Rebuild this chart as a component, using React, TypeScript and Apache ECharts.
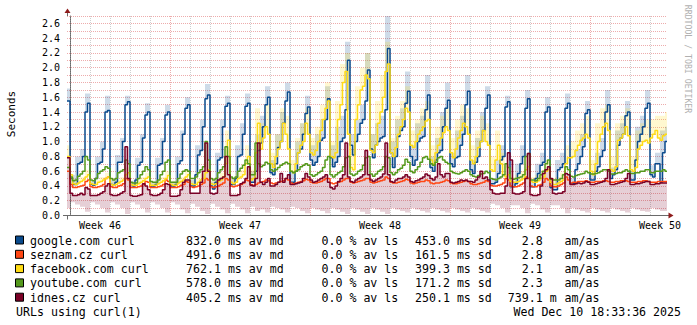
import React, { useEffect, useRef } from 'react';
import * as echarts from 'echarts';

const FONT = '"DejaVu Sans Mono", "Liberation Mono", monospace';

// ---- 3-hour medians (first value: partial bin before the first day line) ----
const googleMedian = [
  1.55,
  0.50, 0.42, 0.42, 0.70, 0.72, 0.80, 1.40, 1.52,
  0.42, 0.41, 0.50, 0.70, 0.72, 0.90, 1.40, 1.42,
  0.42, 0.41, 0.45, 0.72, 0.72, 1.00, 1.50, 1.54,
  0.42, 0.40, 0.48, 0.68, 0.72, 1.05, 1.36, 1.40,
  0.40, 0.40, 0.42, 0.68, 0.70, 1.00, 1.36, 1.40,
  0.40, 0.40, 0.42, 0.70, 0.74, 1.10, 1.45, 1.50,
  0.40, 0.40, 0.55, 0.82, 0.88, 1.20, 1.58, 1.63,
  0.40, 0.36, 0.45, 0.75, 0.78, 1.20, 1.48, 1.52,
  0.42, 0.42, 0.50, 0.80, 0.82, 1.10, 1.48, 1.52,
  0.45, 0.45, 0.60, 0.88, 0.98, 1.20, 1.50, 1.60,
  0.58, 0.55, 0.70, 0.92, 1.00, 1.25, 1.55, 1.67,
  0.45, 0.45, 0.60, 0.85, 0.90, 1.10, 1.38, 1.47,
  0.75, 0.68, 0.72, 0.80, 1.02, 1.05, 1.30, 1.58,
  0.78, 0.66, 0.72, 0.80, 1.00, 1.05, 1.43, 2.10,
  0.95, 0.82, 1.00, 1.10, 1.25, 1.30, 1.55, 1.97,
  0.90, 0.78, 0.95, 1.00, 1.05, 1.07, 1.43, 2.26,
  0.85, 0.65, 0.80, 1.07, 1.15, 1.20, 1.52, 1.68,
  0.80, 0.68, 0.75, 1.00, 1.05, 1.07, 1.43, 1.63,
  0.65, 0.60, 0.75, 0.85, 0.88, 1.20, 1.45, 1.56,
  0.70, 0.66, 0.78, 0.80, 0.95, 1.10, 1.50, 1.68,
  0.62, 0.57, 0.72, 0.80, 1.00, 1.15, 1.45, 1.63,
  0.43, 0.43, 0.45, 0.57, 0.75, 0.80, 1.47, 1.54,
  0.39, 0.39, 0.43, 0.57, 0.70, 0.80, 1.45, 1.58,
  0.39, 0.39, 0.50, 0.57, 0.68, 0.72, 1.40, 1.47,
  0.38, 0.35, 0.35, 0.62, 0.65, 0.70, 1.45, 1.52,
  0.43, 0.43, 0.62, 0.70, 0.80, 0.93, 1.38, 1.43,
  0.48, 0.48, 0.60, 0.66, 0.80, 0.88, 1.40, 1.50,
  0.50, 0.55, 0.62, 0.95, 1.05, 1.10, 1.35, 1.40,
  0.48, 0.48, 0.75, 1.00, 1.10, 1.20, 1.45, 1.52,
  0.55, 0.52, 0.70, 0.70, 0.45, 0.85, 1.00,
];

const seznamMedian = [
  0.60,
  0.42, 0.38, 0.38, 0.39, 0.40, 0.41, 0.46, 0.48,
  0.39, 0.38, 0.38, 0.39, 0.40, 0.42, 0.50, 0.52,
  0.39, 0.38, 0.38, 0.40, 0.41, 0.43, 0.50, 0.48,
  0.38, 0.38, 0.38, 0.39, 0.40, 0.42, 0.46, 0.45,
  0.38, 0.38, 0.38, 0.39, 0.40, 0.42, 0.48, 0.46,
  0.38, 0.38, 0.38, 0.39, 0.41, 0.42, 0.46, 0.45,
  0.39, 0.38, 0.39, 0.40, 0.42, 0.44, 0.50, 0.48,
  0.39, 0.38, 0.39, 0.40, 0.42, 0.44, 0.50, 0.48,
  0.40, 0.39, 0.40, 0.41, 0.42, 0.44, 0.48, 0.47,
  0.42, 0.41, 0.42, 0.44, 0.45, 0.46, 0.48, 0.47,
  0.44, 0.43, 0.44, 0.45, 0.46, 0.47, 0.50, 0.48,
  0.44, 0.43, 0.44, 0.45, 0.46, 0.47, 0.49, 0.48,
  0.45, 0.44, 0.44, 0.45, 0.46, 0.48, 0.50, 0.50,
  0.44, 0.43, 0.44, 0.45, 0.46, 0.48, 0.50, 0.50,
  0.45, 0.44, 0.45, 0.46, 0.47, 0.48, 0.50, 0.50,
  0.45, 0.44, 0.45, 0.46, 0.47, 0.48, 0.52, 0.50,
  0.45, 0.44, 0.44, 0.45, 0.46, 0.47, 0.49, 0.48,
  0.44, 0.43, 0.44, 0.45, 0.46, 0.46, 0.48, 0.47,
  0.44, 0.43, 0.44, 0.44, 0.45, 0.46, 0.48, 0.47,
  0.44, 0.43, 0.43, 0.44, 0.45, 0.46, 0.47, 0.46,
  0.43, 0.42, 0.42, 0.43, 0.44, 0.45, 0.47, 0.46,
  0.41, 0.40, 0.40, 0.41, 0.42, 0.44, 0.50, 0.48,
  0.40, 0.39, 0.39, 0.40, 0.42, 0.44, 0.52, 0.50,
  0.40, 0.39, 0.39, 0.41, 0.42, 0.45, 0.50, 0.48,
  0.40, 0.39, 0.39, 0.40, 0.42, 0.44, 0.52, 0.48,
  0.44, 0.45, 0.45, 0.46, 0.46, 0.46, 0.47, 0.46,
  0.45, 0.45, 0.46, 0.46, 0.46, 0.47, 0.47, 0.46,
  0.45, 0.45, 0.46, 0.46, 0.47, 0.47, 0.47, 0.46,
  0.45, 0.45, 0.45, 0.46, 0.46, 0.47, 0.47, 0.46,
  0.45, 0.45, 0.45, 0.46, 0.46, 0.46, 0.46,
];

const facebookMedian = [
  0.80,
  0.55, 0.43, 0.42, 0.44, 0.46, 0.48, 0.52, 0.55,
  0.43, 0.42, 0.42, 0.45, 0.46, 0.48, 0.50, 0.52,
  0.42, 0.41, 0.42, 0.44, 0.46, 0.48, 0.55, 0.58,
  0.42, 0.41, 0.41, 0.43, 0.45, 0.47, 0.50, 0.52,
  0.41, 0.41, 0.41, 0.43, 0.45, 0.47, 0.50, 0.54,
  0.42, 0.41, 0.41, 0.44, 0.46, 0.48, 0.52, 0.55,
  0.43, 0.42, 0.42, 0.45, 0.48, 0.50, 0.58, 0.62,
  0.43, 0.42, 0.43, 0.46, 0.48, 0.52, 0.70, 1.02,
  0.45, 0.43, 0.45, 0.50, 0.52, 0.55, 0.70, 0.80,
  0.48, 0.50, 0.85, 1.25, 0.90, 1.05, 1.20, 1.10,
  0.70, 0.65, 0.80, 0.90, 1.00, 1.25, 1.10, 0.90,
  0.60, 0.58, 0.70, 0.85, 0.95, 1.00, 1.25, 1.10,
  0.85, 0.82, 0.88, 1.00, 1.15, 1.30, 1.45, 1.55,
  0.80, 0.78, 0.85, 1.30, 1.50, 1.80, 1.95, 1.10,
  0.65, 0.62, 1.30, 1.50, 1.70, 1.75, 1.90, 1.85,
  0.88, 0.85, 0.95, 1.25, 1.40, 1.60, 1.95, 2.05,
  0.85, 0.80, 0.92, 1.10, 1.20, 1.30, 1.45, 1.40,
  0.95, 0.92, 1.00, 1.10, 1.15, 1.20, 1.28, 1.30,
  0.75, 0.70, 0.85, 0.95, 1.05, 1.12, 1.20, 1.15,
  0.85, 0.78, 0.90, 1.05, 1.15, 1.25, 1.20, 1.10,
  0.75, 0.70, 0.80, 0.92, 1.00, 1.15, 1.00, 0.95,
  0.62, 0.60, 0.75, 0.95, 0.70, 0.55, 0.52, 0.55,
  0.46, 0.45, 0.45, 0.46, 0.48, 0.50, 0.62, 0.66,
  0.46, 0.45, 0.45, 0.47, 0.50, 0.52, 0.60, 0.62,
  0.45, 0.42, 0.42, 0.44, 0.46, 0.48, 0.70, 0.78,
  0.78, 0.80, 0.88, 0.95, 1.02, 1.05, 1.10, 1.05,
  0.60, 0.55, 0.70, 1.00, 1.10, 1.20, 1.25, 1.15,
  0.62, 0.60, 0.66, 1.02, 1.05, 1.10, 1.20, 1.08,
  0.62, 0.60, 0.65, 0.90, 0.95, 1.00, 1.02, 0.98,
  1.05, 1.10, 1.15, 1.05, 1.02, 1.08, 1.10,
];

const youtubeMedian = [
  0.65,
  0.52, 0.47, 0.48, 0.53, 0.56, 0.60, 0.80, 0.75,
  0.48, 0.47, 0.50, 0.57, 0.60, 0.62, 0.66, 0.64,
  0.50, 0.48, 0.50, 0.58, 0.60, 0.62, 0.75, 0.70,
  0.45, 0.44, 0.44, 0.50, 0.55, 0.60, 0.66, 0.62,
  0.46, 0.45, 0.45, 0.48, 0.55, 0.60, 0.72, 0.75,
  0.45, 0.45, 0.45, 0.50, 0.56, 0.60, 0.62, 0.60,
  0.50, 0.50, 0.52, 0.58, 0.62, 0.66, 1.00, 0.75,
  0.50, 0.48, 0.50, 0.58, 0.62, 0.66, 0.93, 0.80,
  0.52, 0.50, 0.52, 0.60, 0.64, 0.68, 0.75, 0.70,
  0.55, 0.55, 0.98, 0.70, 0.66, 0.68, 0.72, 0.70,
  0.62, 0.60, 0.62, 0.65, 0.68, 0.70, 0.72, 0.70,
  0.60, 0.58, 0.60, 0.62, 0.66, 0.68, 0.70, 0.68,
  0.55, 0.53, 0.55, 0.58, 0.60, 0.65, 0.75, 0.80,
  0.55, 0.52, 0.55, 0.58, 0.60, 0.66, 0.78, 0.80,
  0.56, 0.54, 0.56, 0.60, 0.62, 0.68, 0.78, 0.80,
  0.56, 0.53, 0.56, 0.60, 0.62, 0.66, 0.80, 0.78,
  0.58, 0.55, 0.58, 0.62, 0.64, 0.68, 0.76, 0.72,
  0.60, 0.58, 0.62, 0.66, 0.72, 0.78, 0.80, 0.76,
  0.70, 0.68, 0.72, 0.78, 0.80, 0.75, 0.72, 0.70,
  0.60, 0.58, 0.57, 0.56, 0.58, 0.60, 0.62, 0.60,
  0.55, 0.53, 0.52, 0.54, 0.56, 0.57, 0.60, 0.58,
  0.50, 0.49, 0.48, 0.50, 0.52, 0.55, 0.70, 0.65,
  0.50, 0.49, 0.50, 0.51, 0.52, 0.55, 0.80, 0.84,
  0.48, 0.48, 0.47, 0.50, 0.55, 0.60, 0.70, 0.75,
  0.49, 0.48, 0.48, 0.48, 0.50, 0.55, 0.66, 0.62,
  0.53, 0.52, 0.54, 0.55, 0.56, 0.57, 0.60, 0.58,
  0.56, 0.56, 0.57, 0.58, 0.60, 0.62, 0.62, 0.60,
  0.56, 0.56, 0.57, 0.58, 0.58, 0.60, 0.62, 0.60,
  0.57, 0.57, 0.58, 0.58, 0.60, 0.60, 0.62, 0.62,
  0.58, 0.58, 0.60, 0.60, 0.60, 0.62, 0.60,
];

const idnesMedian = [
  0.78,
  0.30, 0.27, 0.27, 0.28, 0.30, 0.28, 0.38, 0.36,
  0.27, 0.27, 0.27, 0.28, 0.30, 0.32, 0.40, 0.43,
  0.28, 0.27, 0.27, 0.28, 0.30, 0.32, 0.93, 0.50,
  0.27, 0.26, 0.26, 0.27, 0.28, 0.43, 0.40, 0.35,
  0.28, 0.27, 0.27, 0.28, 0.30, 0.35, 0.43, 0.42,
  0.26, 0.26, 0.26, 0.27, 0.35, 0.45, 0.48, 0.48,
  0.30, 0.30, 0.30, 0.30, 0.45, 0.60, 0.98, 0.60,
  0.30, 0.29, 0.30, 0.48, 0.50, 0.52, 0.80, 0.55,
  0.27, 0.27, 0.27, 0.28, 0.43, 0.45, 0.50, 0.66,
  0.41, 0.40, 0.50, 0.98, 0.45, 0.42, 0.45, 0.50,
  0.40, 0.40, 0.42, 0.45, 0.57, 0.45, 0.50, 0.55,
  0.42, 0.42, 0.43, 0.44, 0.45, 0.50, 0.57, 0.52,
  0.48, 0.45, 0.46, 0.48, 0.50, 0.52, 0.55, 0.45,
  0.38, 0.36, 0.40, 0.46, 0.50, 0.55, 0.98, 0.52,
  0.46, 0.45, 0.48, 0.50, 0.52, 0.55, 0.88, 0.55,
  0.48, 0.46, 0.48, 0.50, 0.52, 0.56, 0.98, 0.55,
  0.46, 0.45, 0.48, 0.50, 0.50, 0.52, 0.55, 0.52,
  0.46, 0.45, 0.47, 0.48, 0.50, 0.52, 0.56, 0.54,
  0.50, 0.48, 0.52, 0.70, 0.55, 0.52, 0.57, 0.57,
  0.45, 0.44, 0.45, 0.46, 0.48, 0.47, 0.48, 0.46,
  0.46, 0.45, 0.48, 0.52, 0.60, 0.50, 0.52, 0.48,
  0.35, 0.30, 0.29, 0.29, 0.30, 0.30, 0.40, 0.85,
  0.75, 0.30, 0.29, 0.29, 0.30, 0.32, 0.50, 0.84,
  0.28, 0.27, 0.27, 0.28, 0.40, 0.57, 0.62, 0.66,
  0.50, 0.30, 0.29, 0.30, 0.30, 0.32, 0.57, 0.55,
  0.42, 0.42, 0.43, 0.44, 0.43, 0.44, 0.46, 0.45,
  0.42, 0.42, 0.43, 0.44, 0.45, 0.46, 0.50, 0.62,
  0.42, 0.42, 0.43, 0.44, 0.45, 0.46, 0.50, 0.57,
  0.42, 0.42, 0.43, 0.43, 0.44, 0.45, 0.46, 0.46,
  0.42, 0.42, 0.43, 0.43, 0.44, 0.44, 0.44,
];

// ---- 6-hour smoke bounds ----
const googleSmokeHi = [
  1.72,
  0.55, 0.80, 0.90, 1.65,
  0.48, 0.80, 1.00, 1.62,
  0.48, 0.82, 1.05, 1.62,
  0.47, 0.78, 1.10, 1.52,
  0.46, 0.78, 1.05, 1.50,
  0.46, 0.80, 1.15, 1.60,
  0.48, 0.95, 1.30, 1.78,
  0.46, 0.85, 1.30, 1.62,
  0.50, 0.95, 1.25, 1.65,
  0.60, 1.10, 1.35, 1.75,
  0.75, 1.10, 1.40, 1.80,
  0.60, 1.00, 1.25, 1.62,
  0.95, 1.10, 1.30, 1.75,
  0.95, 1.20, 1.35, 2.35,
  1.10, 1.30, 1.50, 2.20,
  1.10, 1.25, 1.35, 2.72,
  1.00, 1.30, 1.45, 1.95,
  0.95, 1.25, 1.35, 1.90,
  0.80, 1.05, 1.40, 1.80,
  0.85, 1.15, 1.35, 1.90,
  0.75, 1.05, 1.40, 1.75,
  0.50, 0.75, 0.95, 1.62,
  0.46, 0.70, 0.95, 1.70,
  0.46, 0.70, 0.85, 1.60,
  0.42, 0.75, 0.85, 1.65,
  0.50, 0.90, 1.10, 1.55,
  0.58, 0.85, 1.05, 1.70,
  0.65, 1.15, 1.25, 1.55,
  0.60, 1.20, 1.35, 1.70,
  0.68, 0.85, 1.15, 1.20,
];

const facebookSmokeHi = [
  0.95,
  0.50, 0.48, 0.52, 0.62,
  0.46, 0.48, 0.52, 0.58,
  0.46, 0.48, 0.52, 0.65,
  0.45, 0.47, 0.52, 0.58,
  0.45, 0.47, 0.52, 0.60,
  0.46, 0.48, 0.52, 0.62,
  0.47, 0.50, 0.56, 0.72,
  0.47, 0.52, 0.58, 1.15,
  0.50, 0.58, 0.62, 0.95,
  0.62, 1.45, 1.25, 1.50,
  0.85, 1.10, 1.45, 1.35,
  0.75, 1.05, 1.25, 1.45,
  1.05, 1.20, 1.50, 1.80,
  1.00, 1.55, 2.05, 2.20,
  0.90, 1.75, 2.00, 2.20,
  1.10, 1.55, 1.90, 2.35,
  1.05, 1.35, 1.55, 1.75,
  1.15, 1.30, 1.45, 1.55,
  0.95, 1.20, 1.35, 1.45,
  1.05, 1.30, 1.50, 1.45,
  0.95, 1.15, 1.35, 1.25,
  0.80, 1.15, 0.85, 0.70,
  0.52, 0.55, 0.60, 0.80,
  0.52, 0.55, 0.62, 0.75,
  0.50, 0.52, 0.58, 0.95,
  1.00, 1.15, 1.25, 1.35,
  0.75, 1.25, 1.45, 1.50,
  0.80, 1.25, 1.35, 1.45,
  0.80, 1.15, 1.25, 1.30,
  1.30, 1.35, 1.35, 1.40,
];

const idnesSmokeLo = [
  0.10,
  0.18, 0.15, 0.12, 0.05,
  0.18, 0.15, 0.10, 0.04,
  0.18, 0.15, 0.10, 0.02,
  0.18, 0.15, 0.10, 0.04,
  0.18, 0.15, 0.10, 0.04,
  0.18, 0.15, 0.08, 0.03,
  0.16, 0.12, 0.06, 0.02,
  0.16, 0.12, 0.08, 0.03,
  0.16, 0.12, 0.08, 0.03,
  0.12, 0.06, 0.08, 0.04,
  0.12, 0.10, 0.08, 0.04,
  0.12, 0.10, 0.06, 0.03,
  0.10, 0.08, 0.06, 0.03,
  0.10, 0.08, 0.05, 0.02,
  0.10, 0.08, 0.05, 0.02,
  0.10, 0.08, 0.05, 0.02,
  0.10, 0.08, 0.06, 0.04,
  0.10, 0.08, 0.06, 0.04,
  0.10, 0.08, 0.06, 0.04,
  0.10, 0.08, 0.06, 0.04,
  0.10, 0.08, 0.06, 0.04,
  0.16, 0.14, 0.10, 0.04,
  0.14, 0.14, 0.10, 0.03,
  0.16, 0.14, 0.08, 0.04,
  0.14, 0.14, 0.10, 0.03,
  0.10, 0.08, 0.06, 0.04,
  0.10, 0.08, 0.06, 0.04,
  0.10, 0.08, 0.06, 0.04,
  0.10, 0.08, 0.06, 0.05,
  0.10, 0.08, 0.06, 0.06,
];

// ---- axis ticks / labels ----
const dayTicks = Array.from({ length: 30 }, (_, d) => 24 * d);
const weekStarts = [120, 288, 456, 624];
const weekCenters = [36, 204, 372, 540, 708];
const weekLabels = ['Week 46', 'Week 47', 'Week 48', 'Week 49', 'Week 50'];

// ---- legend ----
const legendNames = ['google.com curl', 'seznam.cz curl', 'facebook.com curl', 'youtube.com curl', 'idnes.cz curl'];
const legendColors = ['#0a4a8c', '#ff4714', '#ffdc14', '#54991c', '#7a0026'];
const avgMedian = ['832.0', '491.6', '762.1', '578.0', '405.2'];
const avgLoss = ['0.0', '0.0', '0.0', '0.0', '0.0'];
const stdDev = ['453.0', '161.5', '399.3', '171.2', '250.1'];
const amas = ['2.8', '2.8', '2.1', '2.3', '739.1'];
const amasUnit = ['', '', '', '', 'm'];

const T_MIN = -3.6;
const T_MAX = 716.4;
const Y_MAX = 2.7;

const binStart = (i: number) => (i === 0 ? T_MIN : 3 * (i - 1));
const binEnd = (i: number) => (i === 0 ? 0 : Math.min(3 * i, T_MAX));
const smokeIdx = (i: number) => (i === 0 ? 0 : 1 + Math.floor((i - 1) / 2));

function lineData(vals: number[]) {
  const d: number[][] = vals.map((v, i) => [binStart(i), v]);
  d.push([T_MAX, vals[vals.length - 1]]);
  return d;
}

function bandSeries(top: number[], bottom: number[], color: string) {
  return {
    type: 'custom',
    silent: true,
    clip: true,
    data: [[0, 0]],
    renderItem: (_p: any, api: any) => {
      const pts: number[][] = [];
      for (let i = 0; i < top.length; i++) {
        pts.push(api.coord([binStart(i), top[i]]));
        pts.push(api.coord([binEnd(i), top[i]]));
      }
      for (let i = bottom.length - 1; i >= 0; i--) {
        pts.push(api.coord([binEnd(i), bottom[i]]));
        pts.push(api.coord([binStart(i), bottom[i]]));
      }
      return { type: 'polygon', shape: { points: pts }, style: { fill: color } };
    },
  };
}

function medianSeries(vals: number[], color: string) {
  return {
    type: 'line',
    silent: true,
    step: 'end',
    symbol: 'none',
    showSymbol: false,
    data: lineData(vals),
    lineStyle: { color, width: 1.5 },
  };
}

const MGRID = 'rgba(220,90,90,0.5)';
const GRID = 'rgba(160,160,160,0.5)';
const AXIS = '#6a6a6a';
const ARROW = '#8e1b1b';

export default function App() {
  const ref = useRef<HTMLDivElement>(null);
  useEffect(() => {
    if (!ref.current) return;
    const chart = echarts.init(ref.current, undefined, { renderer: 'svg' });

    const googleTop = googleMedian.map((v, i) => Math.max(v, googleSmokeHi[smokeIdx(i)]));
    const fbTop = facebookMedian.map((v, i) => Math.max(v, facebookSmokeHi[smokeIdx(i)]));
    const idnesBottom = idnesMedian.map((v, i) => Math.min(v, idnesSmokeLo[smokeIdx(i)]));

    const legendGraphics: any[] = [];
    legendNames.forEach((name, r) => {
      const y = 240.5 + 14.3 * r;
      const ts = { fontFamily: FONT, fontSize: 11.6, fill: '#000', verticalAlign: 'middle', textVerticalAlign: 'middle' };
      legendGraphics.push({ type: 'rect', shape: { x: 15.5, y: y - 4.5, width: 8, height: 8 }, style: { fill: legendColors[r], stroke: '#000', lineWidth: 1 } });
      legendGraphics.push({ type: 'text', x: 30, y, style: { ...ts, text: name } });
      legendGraphics.push({ type: 'text', x: 186, y, style: { ...ts, text: `${avgMedian[r]} ms av md` } });
      legendGraphics.push({ type: 'text', x: 321.5, y, style: { ...ts, text: `${avgLoss[r]} % av ls` } });
      legendGraphics.push({ type: 'text', x: 415, y, style: { ...ts, text: `${stdDev[r]} ms sd` } });
      legendGraphics.push({ type: 'text', x: 542.7, y, style: { ...ts, text: amas[r], align: 'right', textAlign: 'right' } });
      if (amasUnit[r]) legendGraphics.push({ type: 'text', x: 549.7, y, style: { ...ts, text: amasUnit[r] } });
      legendGraphics.push({ type: 'text', x: 564.6, y, style: { ...ts, text: 'am/as' } });
    });

    const option: any = {
      animation: false,
      backgroundColor: '#ffffff',
      textStyle: { fontFamily: FONT },
      grid: { left: 67, right: 30, top: 16, bottom: 109.5, containLabel: false },
      xAxis: {
        type: 'value',
        min: T_MIN,
        max: T_MAX,
        axisLabel: { show: false },
        axisTick: { show: false },
        splitLine: { show: false },
        axisLine: { show: true, onZero: true, lineStyle: { color: AXIS, width: 1 } },
      },
      yAxis: {
        type: 'value',
        min: 0,
        max: Y_MAX,
        interval: 0.1,
        axisTick: { show: false },
        axisLine: { show: true, lineStyle: { color: AXIS, width: 1 } },
        splitLine: { show: true, lineStyle: { color: MGRID, width: 1, type: [1, 1] } },
        axisLabel: {
          color: '#000',
          fontFamily: FONT,
          fontSize: 10,
          margin: 7,
          formatter: (v: number) => {
            const k = Math.round(v * 10);
            return k % 2 === 0 ? (k / 10).toFixed(1) : '';
          },
        },
      },
      series: [
        {
          type: 'custom',
          silent: true,
          clip: false,
          data: dayTicks.map((t) => [t, weekStarts.includes(t) ? 1 : 0]),
          renderItem: (_p: any, api: any) => {
            const t = api.value(0);
            const wk = api.value(1);
            const a = api.coord([t, Y_MAX]);
            const b = api.coord([t, 0]);
            const x = Math.round(a[0]) + 0.5;
            return {
              type: 'line',
              shape: { x1: x, y1: a[1], x2: x, y2: b[1] },
              style: { stroke: wk ? MGRID : GRID, lineWidth: 1, lineDash: [1, 1] },
            };
          },
        },
        {
          type: 'custom',
          silent: true,
          clip: false,
          data: weekCenters.map((t, i) => [t, 0, i]),
          renderItem: (p: any, api: any) => {
            const c = api.coord([api.value(0), 0]);
            return {
              type: 'text',
              x: c[0],
              y: c[1] + 9.5,
              style: {
                text: weekLabels[p.dataIndex],
                fontFamily: FONT,
                fontSize: 10,
                fill: '#000',
                align: 'center',
                textAlign: 'center',
                verticalAlign: 'middle',
                textVerticalAlign: 'middle',
              },
            };
          },
        },
        bandSeries(googleTop, googleMedian, 'rgba(10,74,140,0.2)'),
        medianSeries(googleMedian, legendColors[0]),
        medianSeries(seznamMedian, legendColors[1]),
        bandSeries(fbTop, facebookMedian, 'rgba(255,220,20,0.2)'),
        medianSeries(facebookMedian, legendColors[2]),
        medianSeries(youtubeMedian, legendColors[3]),
        bandSeries(idnesMedian, idnesBottom, 'rgba(122,0,38,0.19)'),
        medianSeries(idnesMedian, legendColors[4]),
      ],
      graphic: [
        { type: 'line', shape: { x1: 67.5, y1: 16, x2: 67.5, y2: 12 }, style: { stroke: AXIS, lineWidth: 1 } },
        { type: 'line', shape: { x1: 67.5, y1: 215.5, x2: 67.5, y2: 219.5 }, style: { stroke: AXIS, lineWidth: 1 } },
        { type: 'line', shape: { x1: 63, y1: 215.5, x2: 67, y2: 215.5 }, style: { stroke: AXIS, lineWidth: 1 } },
        { type: 'line', shape: { x1: 667, y1: 215.5, x2: 669, y2: 215.5 }, style: { stroke: AXIS, lineWidth: 1 } },
        { type: 'polygon', shape: { points: [[64.5, 13], [70.5, 13], [67.5, 8.5]] }, style: { fill: ARROW } },
        { type: 'polygon', shape: { points: [[668.5, 212.5], [668.5, 218.5], [673.5, 215.5]] }, style: { fill: ARROW } },
        {
          type: 'text', x: 11, y: 114, rotation: Math.PI / 2,
          style: { text: 'Seconds', fontFamily: FONT, fontSize: 11, fill: '#000', align: 'center', textAlign: 'center', verticalAlign: 'middle', textVerticalAlign: 'middle' },
        },
        {
          type: 'text', x: 688, y: 59, rotation: -Math.PI / 2,
          style: { text: 'RRDTOOL / TOBI OETIKER', fontFamily: FONT, fontSize: 8.2, fill: '#b0b0b0', align: 'center', textAlign: 'center', verticalAlign: 'middle', textVerticalAlign: 'middle' },
        },
        ...legendGraphics,
        {
          type: 'text', x: 16, y: 311.5,
          style: { text: 'URLs using curl(1)', fontFamily: FONT, fontSize: 11.6, fill: '#000', verticalAlign: 'middle', textVerticalAlign: 'middle' },
        },
        {
          type: 'text', x: 681, y: 311.5,
          style: { text: 'Wed Dec 10 18:33:36 2025', fontFamily: FONT, fontSize: 11.6, fill: '#000', align: 'right', textAlign: 'right', verticalAlign: 'middle', textVerticalAlign: 'middle' },
        },
      ],
    };
    chart.setOption(option);
    return () => chart.dispose();
  }, []);
  return (
    <div
      ref={ref}
      style={{ position: 'fixed', left: 0, top: 0, width: 697, height: 325, background: '#fff' }}
    />
  );
}
